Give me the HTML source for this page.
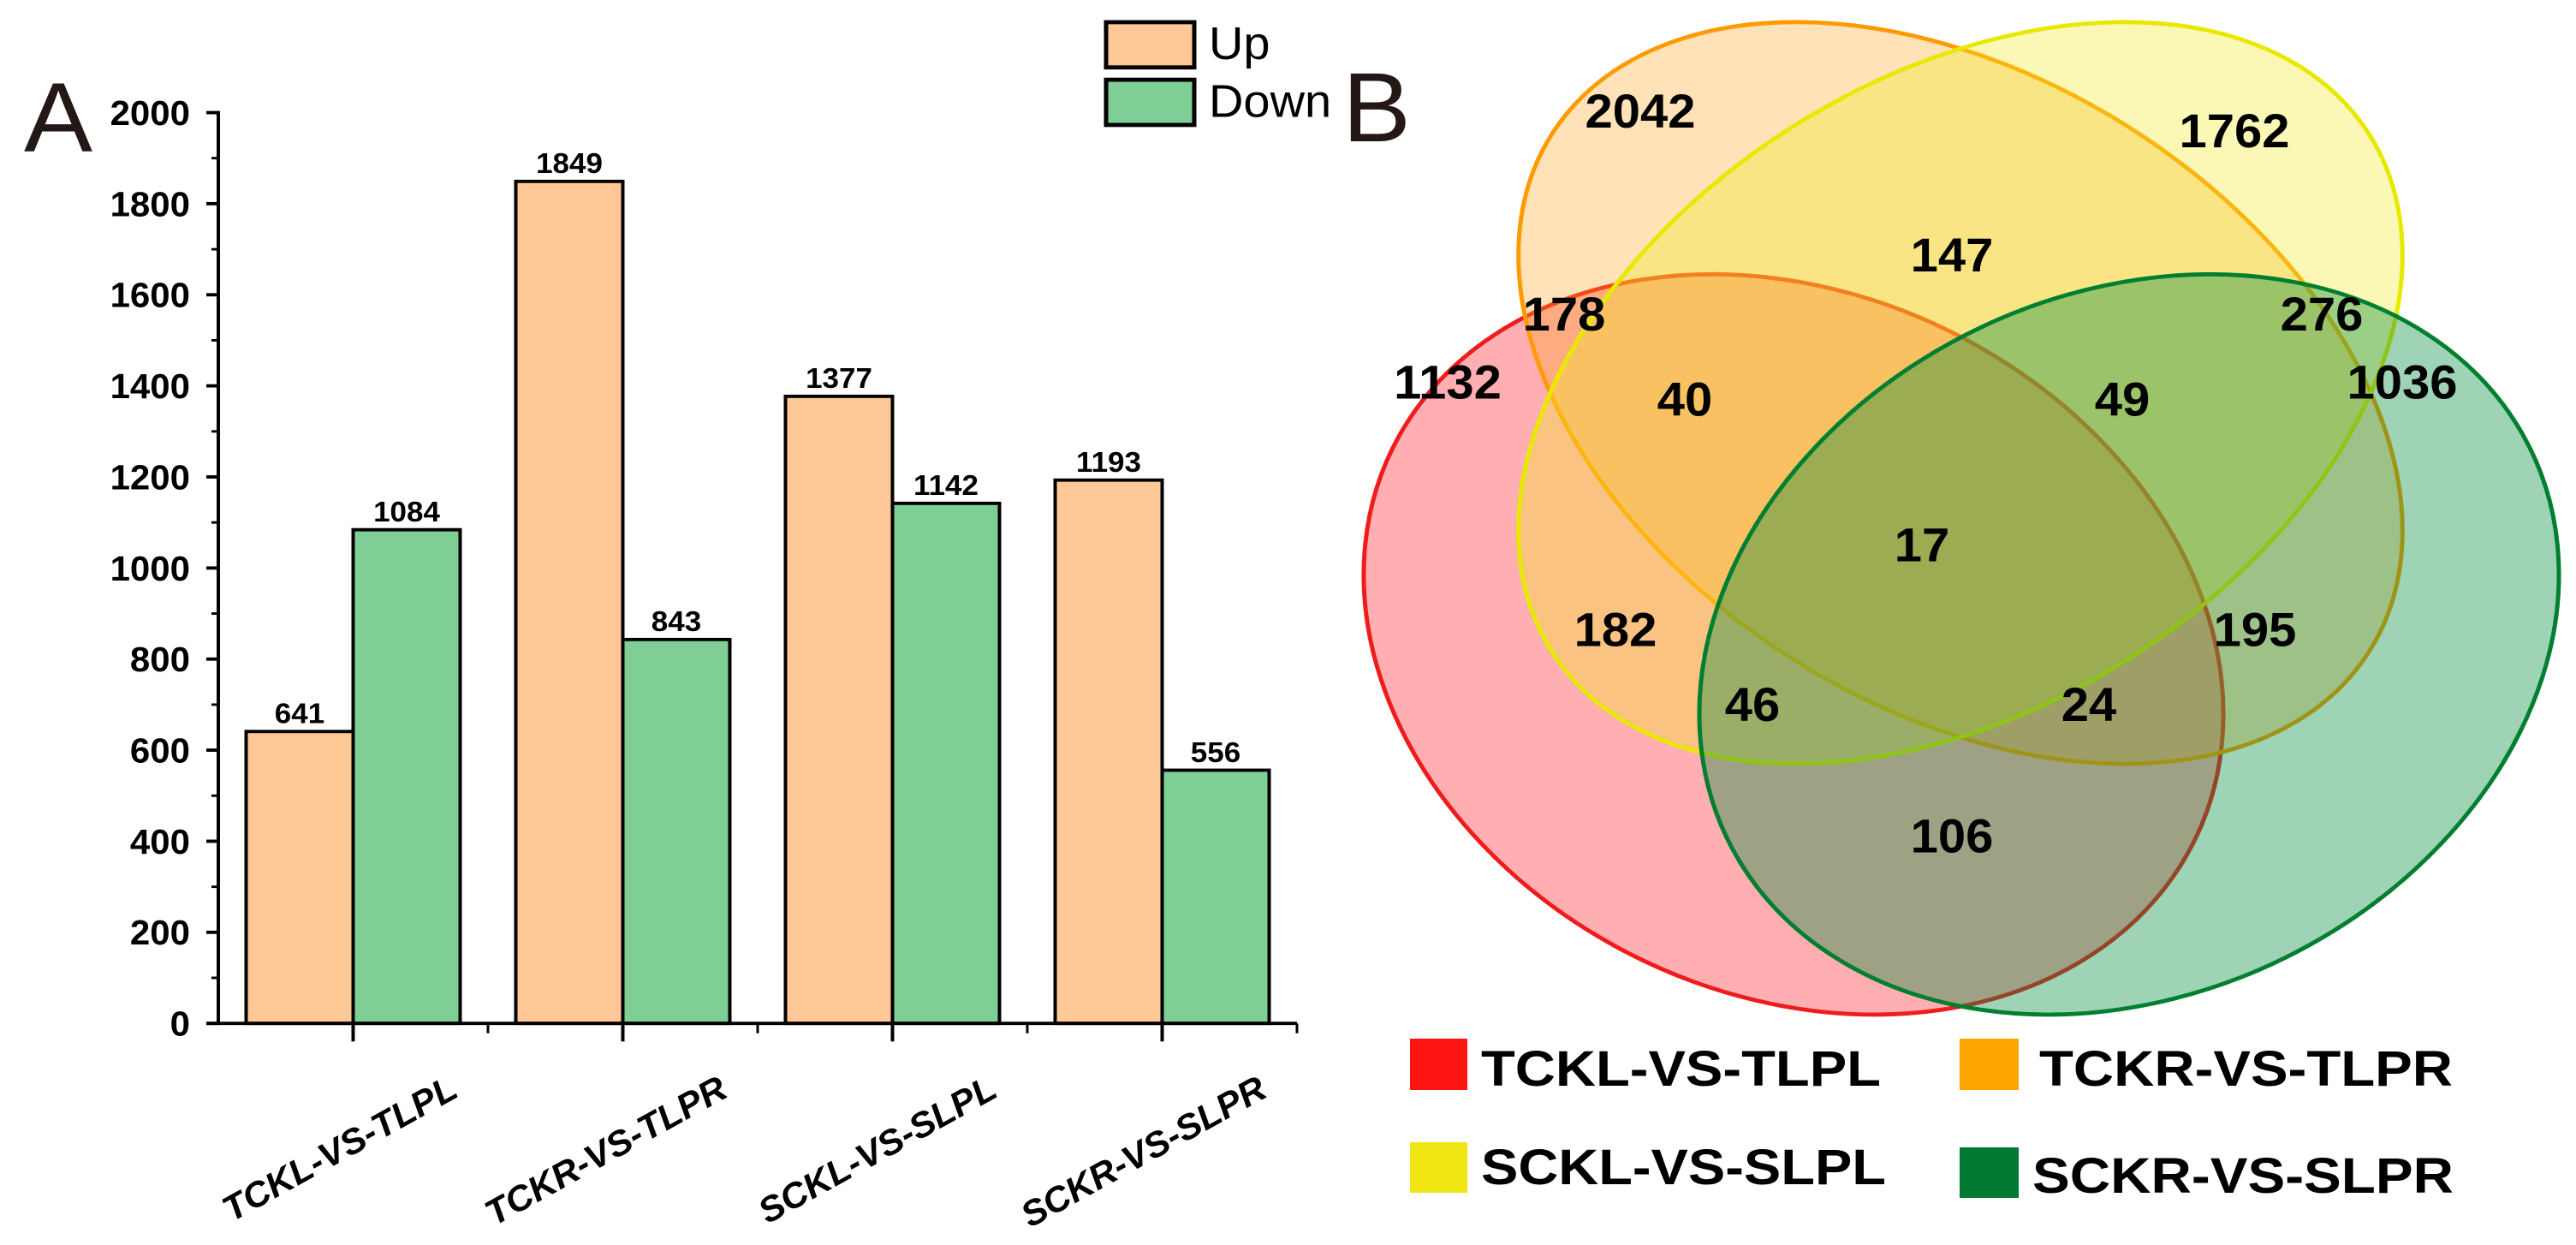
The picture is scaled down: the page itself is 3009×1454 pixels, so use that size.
<!DOCTYPE html>
<html><head><meta charset="utf-8"><style>
html,body{margin:0;padding:0;background:#fff;}
svg{display:block;}
text{font-family:"Liberation Sans",sans-serif;}
</style></head><body>
<svg id="fig" width="3009" height="1454" viewBox="0 0 3009 1454" xmlns="http://www.w3.org/2000/svg">
<rect width="3009" height="1454" fill="#fff"/>
<g transform="scale(1,0.96)">
<text x="28" y="184" font-size="120" fill="#231815">A</text>
<text x="1568" y="172" font-size="120" fill="#231815">B</text>
<g id="bar-chart"></g>
<g id="bar-legend">
 <rect x="1292" y="27" width="103" height="55" fill="#ffc896" stroke="#000" stroke-width="5"/>
 <text x="1412" y="72" font-size="56">Up</text>
 <rect x="1292" y="97" width="103" height="55" fill="#7fce96" stroke="#000" stroke-width="5"/>
 <text x="1412" y="142" font-size="56">Down</text>
</g>
<g id="venn">
 <ellipse cx="2095" cy="784" rx="526" ry="422" transform="rotate(30 2095 784)" fill="rgba(255,30,40,0.36)" stroke="#ee1c1c" stroke-width="5"/>
 <ellipse cx="2290" cy="478" rx="572" ry="378" transform="rotate(35 2290 478)" fill="rgba(255,165,30,0.32)" stroke="#ff9a00" stroke-width="5"/>
 <ellipse cx="2290" cy="478" rx="572" ry="378" transform="rotate(-35 2290 478)" fill="rgba(240,235,40,0.35)" stroke="#e8e800" stroke-width="5"/>
 <ellipse cx="2487" cy="784" rx="526" ry="422" transform="rotate(-30 2487 784)" fill="rgba(0,140,60,0.38)" stroke="#007f30" stroke-width="5"/>
 <g font-size="58" font-weight="bold" text-anchor="middle" fill="#000">
  <text x="1916" y="155">2042</text>
  <text x="2610" y="179">1762</text>
  <text x="2280" y="330">147</text>
  <text x="1827" y="402">178</text>
  <text x="2712" y="402">276</text>
  <text x="1691" y="485">1132</text>
  <text x="1968" y="506">40</text>
  <text x="2479" y="506">49</text>
  <text x="2806" y="485">1036</text>
  <text x="2245" y="683">17</text>
  <text x="1887" y="786">182</text>
  <text x="2634" y="786">195</text>
  <text x="2047" y="877">46</text>
  <text x="2440" y="877">24</text>
  <text x="2280" y="1037">106</text>
 </g>
</g>
</g>
<g id="venn-legend" font-size="58" font-weight="bold">
 <rect x="1647" y="1213" width="67" height="60" fill="#ff1414"/>
 <text x="1730" y="1268" textLength="467" lengthAdjust="spacingAndGlyphs">TCKL-VS-TLPL</text>
 <rect x="2289" y="1213" width="69" height="60" fill="#ffa500"/>
 <text x="2382" y="1268" textLength="483" lengthAdjust="spacingAndGlyphs">TCKR-VS-TLPR</text>
 <rect x="1647" y="1334" width="67" height="59" fill="#f0e614"/>
 <text x="1730" y="1383" textLength="473" lengthAdjust="spacingAndGlyphs">SCKL-VS-SLPL</text>
 <rect x="2289" y="1340" width="69" height="59" fill="#007a32"/>
 <text x="2374" y="1393" textLength="492" lengthAdjust="spacingAndGlyphs">SCKR-VS-SLPR</text>
</g>
</svg>
<script>
const categories = ["TCKL-VS-TLPL","TCKR-VS-TLPR","SCKL-VS-SLPL","SCKR-VS-SLPR"];
const upValues = [641, 1849, 1377, 1193];
const downValues = [1084, 843, 1142, 556];
const yTicks = [0, 200, 400, 600, 800, 1000, 1200, 1400, 1600, 1800, 2000];

const NS = "http://www.w3.org/2000/svg";
const g = document.getElementById("bar-chart");
const X0 = 255, STEP = 315, BW = 125, Y0 = 1245, YTOP = 137, YMAX = 2000;
function yScale(v){ return Y0 - (v / YMAX) * (Y0 - YTOP); }
function xCenter(i){ return X0 + STEP * (i + 0.5); }
function mk(tag, attrs){ const e = document.createElementNS(NS, tag); for (const k in attrs) e.setAttribute(k, attrs[k]); g.appendChild(e); return e; }

yTicks.forEach((t) => {
  const y = yScale(t);
  const tk = mk("line", {x1: X0 - 14, x2: X0, y1: y, y2: y, stroke: "#000", "stroke-width": 4});
  
  
  const lb = mk("text", {x: X0 - 33, y: y + 15, "text-anchor": "end", "font-size": 42, "font-weight": "bold"});
  
  
  lb.textContent = t;
});
for (let i = 0; i < yTicks.length - 1; i++) {
  const y = yScale((yTicks[i] + yTicks[i + 1]) / 2);
  const mt = mk("line", {x1: X0 - 8, x2: X0, y1: y, y2: y, stroke: "#000", "stroke-width": 3});
  
  
}

categories.forEach((c, i) => {
  const cx = xCenter(i);
  const series = [[upValues[i], "#ffc896", cx - BW, "up"], [downValues[i], "#7fce96", cx, "down"]];
  series.forEach(([v, col, x, nm]) => {
    const y = yScale(v);
    const r = mk("rect", {x: x, y: y, width: BW, height: Y0 - y, fill: col, stroke: "#000", "stroke-width": 4});
    
    
    const t = mk("text", {x: x + BW / 2, y: y - 10, "text-anchor": "middle", "font-size": 35, "font-weight": "bold"});
    
    
    t.textContent = v;
  });
  const tk = mk("line", {x1: cx, x2: cx, y1: Y0, y2: Y0 + 22, stroke: "#000", "stroke-width": 4});
  
  
  const bx = X0 + STEP * (i + 1);
  const mt = mk("line", {x1: bx, x2: bx, y1: Y0, y2: Y0 + 12, stroke: "#000", "stroke-width": 3});
  
  
  const lx = cx + 125, ly = Y0 + 88;
  const lb = mk("text", {x: lx, y: ly, "text-anchor": "end", "font-size": 43, "font-weight": "bold", "font-style": "italic", transform: "rotate(-30 " + lx + " " + ly + ")"});
  
  
  lb.textContent = c;
});
const yAxis = mk("line", {x1: X0, x2: X0, y1: YTOP - 2, y2: Y0 + 2, stroke: "#000", "stroke-width": 4});


const xAxis = mk("line", {x1: X0 - 14, x2: X0 + STEP * categories.length, y1: Y0, y2: Y0, stroke: "#000", "stroke-width": 4});


</script>
</body></html>
